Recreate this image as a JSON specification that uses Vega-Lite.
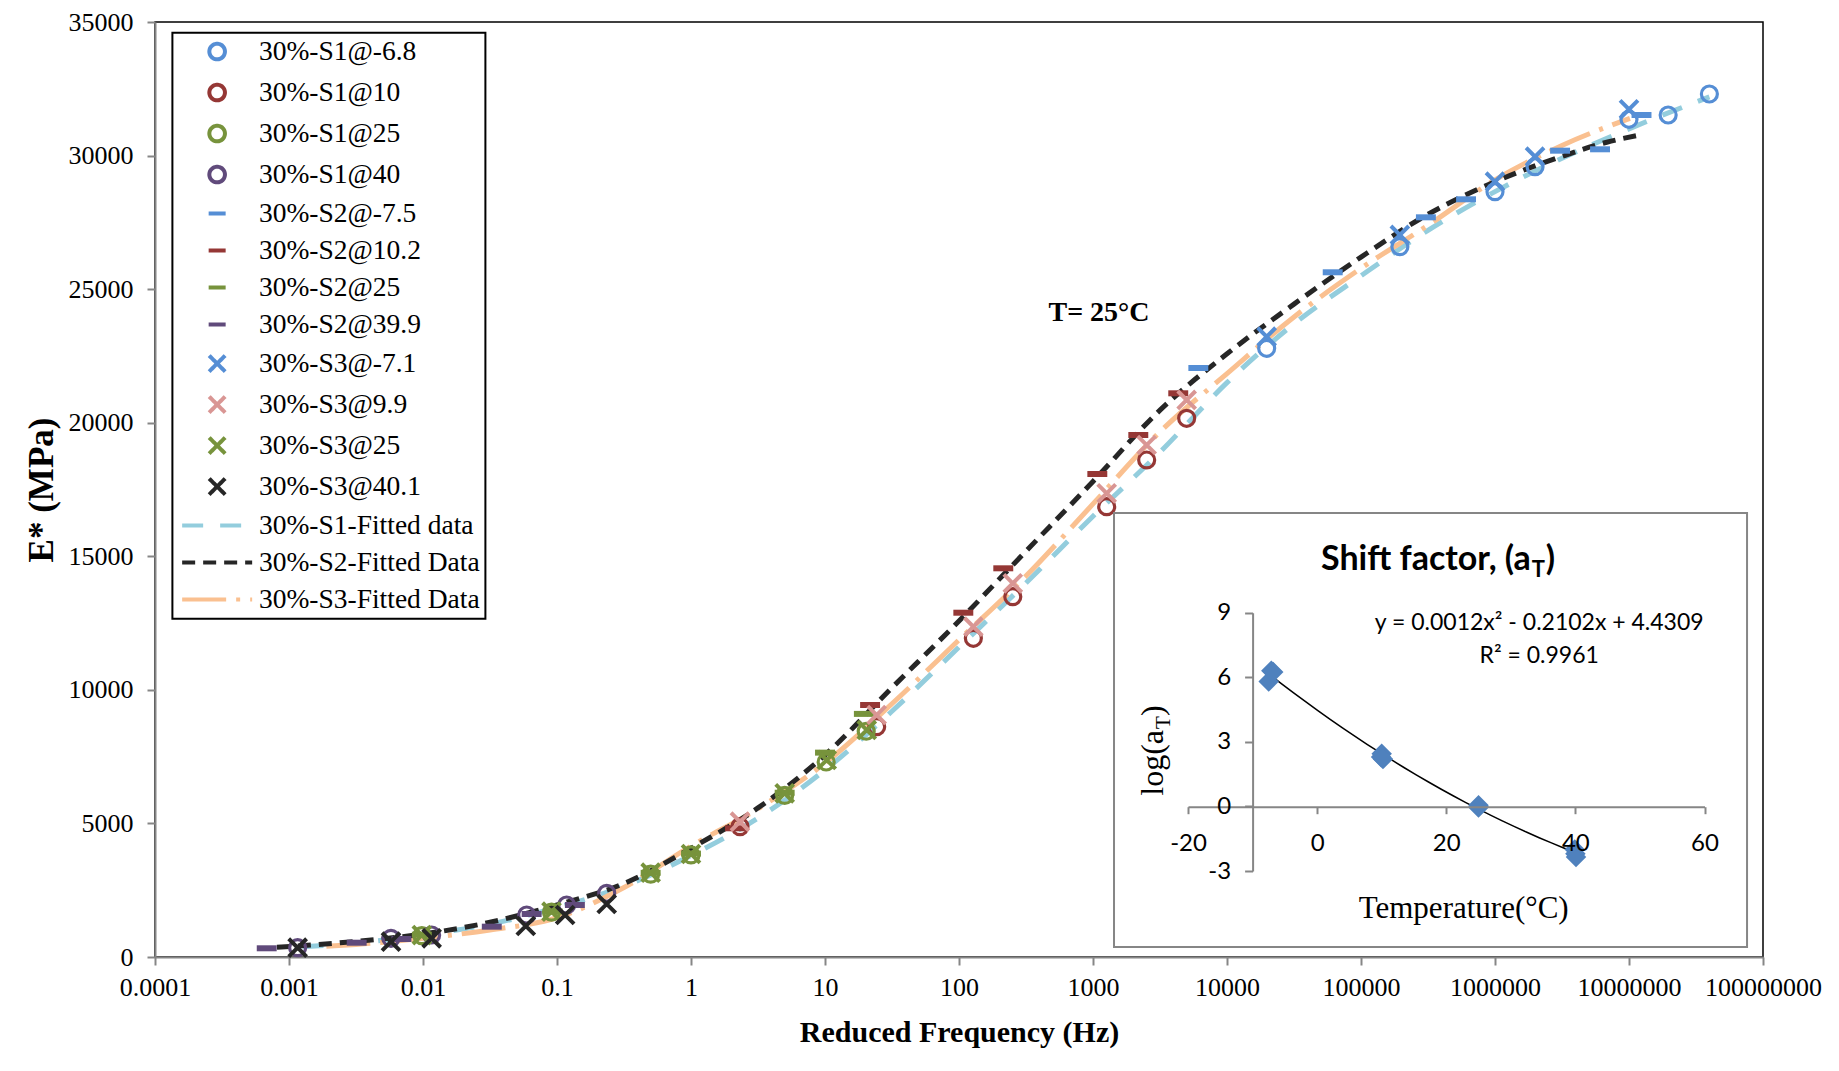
{
  "$schema": "https://vega.github.io/schema/vega-lite/v6.json",
  "width": 1608,
  "height": 935,
  "autosize": {"type": "none"},
  "padding": {"left": 155, "top": 22, "right": 76, "bottom": 114},
  "background": "white",
  "config": {
    "view": {"stroke": "#000000", "strokeWidth": 1.5},
    "axis": {"grid": false},
    "legend": {"strokeWidth": 2}
  },
  "datasets": {
    "pts": [
      {"series": "30%-S1@-6.8", "f": 19770, "E": 22786},
      {"series": "30%-S1@-6.8", "f": 195000, "E": 26590},
      {"series": "30%-S1@-6.8", "f": 1000000, "E": 28650},
      {"series": "30%-S1@-6.8", "f": 1990000, "E": 29584},
      {"series": "30%-S1@-6.8", "f": 10000000, "E": 31358},
      {"series": "30%-S1@-6.8", "f": 19600000, "E": 31519},
      {"series": "30%-S1@-6.8", "f": 39800000, "E": 32305},
      {"series": "30%-S1@10", "f": 2.32, "E": 4880},
      {"series": "30%-S1@10", "f": 24.3, "E": 8621},
      {"series": "30%-S1@10", "f": 128, "E": 11930},
      {"series": "30%-S1@10", "f": 252, "E": 13488},
      {"series": "30%-S1@10", "f": 1265, "E": 16857},
      {"series": "30%-S1@10", "f": 2515, "E": 18605},
      {"series": "30%-S1@10", "f": 5000, "E": 20165},
      {"series": "30%-S1@25", "f": 0.0098, "E": 800},
      {"series": "30%-S1@25", "f": 0.091, "E": 1680},
      {"series": "30%-S1@25", "f": 0.5, "E": 3100},
      {"series": "30%-S1@25", "f": 1.0, "E": 3820},
      {"series": "30%-S1@25", "f": 5.0, "E": 6050},
      {"series": "30%-S1@25", "f": 10.2, "E": 7300},
      {"series": "30%-S1@25", "f": 20.3, "E": 8450},
      {"series": "30%-S1@40", "f": 0.00116, "E": 348},
      {"series": "30%-S1@40", "f": 0.00577, "E": 700},
      {"series": "30%-S1@40", "f": 0.0116, "E": 823},
      {"series": "30%-S1@40", "f": 0.0594, "E": 1572},
      {"series": "30%-S1@40", "f": 0.118, "E": 1947},
      {"series": "30%-S1@40", "f": 0.235, "E": 2384},
      {"series": "30%-S2@-7.5", "f": 6110, "E": 22049},
      {"series": "30%-S2@-7.5", "f": 61500, "E": 25631},
      {"series": "30%-S2@-7.5", "f": 305000, "E": 27689},
      {"series": "30%-S2@-7.5", "f": 608000, "E": 28363},
      {"series": "30%-S2@-7.5", "f": 3060000, "E": 30183},
      {"series": "30%-S2@-7.5", "f": 6080000, "E": 30235},
      {"series": "30%-S2@-7.5", "f": 12400000, "E": 31519},
      {"series": "30%-S2@10.2", "f": 2.13, "E": 4818},
      {"series": "30%-S2@10.2", "f": 21.7, "E": 9433},
      {"series": "30%-S2@10.2", "f": 107.7, "E": 12888},
      {"series": "30%-S2@10.2", "f": 214, "E": 14550},
      {"series": "30%-S2@10.2", "f": 1077, "E": 18080},
      {"series": "30%-S2@10.2", "f": 2178, "E": 19540},
      {"series": "30%-S2@10.2", "f": 4327, "E": 21101},
      {"series": "30%-S2@25", "f": 0.0098, "E": 835},
      {"series": "30%-S2@25", "f": 0.093, "E": 1700},
      {"series": "30%-S2@25", "f": 0.5, "E": 3150},
      {"series": "30%-S2@25", "f": 1.0, "E": 3870},
      {"series": "30%-S2@25", "f": 5.0, "E": 6150},
      {"series": "30%-S2@25", "f": 10.0, "E": 7650},
      {"series": "30%-S2@25", "f": 19.5, "E": 9100},
      {"series": "30%-S2@39.9", "f": 0.000682, "E": 326},
      {"series": "30%-S2@39.9", "f": 0.0032, "E": 535},
      {"series": "30%-S2@39.9", "f": 0.0069, "E": 674},
      {"series": "30%-S2@39.9", "f": 0.0326, "E": 1135},
      {"series": "30%-S2@39.9", "f": 0.0647, "E": 1610},
      {"series": "30%-S2@39.9", "f": 0.136, "E": 1947},
      {"series": "30%-S3@-7.1", "f": 19770, "E": 23220},
      {"series": "30%-S3@-7.1", "f": 195000, "E": 27030},
      {"series": "30%-S3@-7.1", "f": 1000000, "E": 29023},
      {"series": "30%-S3@-7.1", "f": 1990000, "E": 29958},
      {"series": "30%-S3@-7.1", "f": 10000000, "E": 31732},
      {"series": "30%-S3@9.9", "f": 2.32, "E": 5065},
      {"series": "30%-S3@9.9", "f": 24.3, "E": 9059},
      {"series": "30%-S3@9.9", "f": 128, "E": 12364},
      {"series": "30%-S3@9.9", "f": 252, "E": 13990},
      {"series": "30%-S3@9.9", "f": 1265, "E": 17358},
      {"series": "30%-S3@9.9", "f": 2515, "E": 19166},
      {"series": "30%-S3@9.9", "f": 5000, "E": 20851},
      {"series": "30%-S3@25", "f": 0.0098, "E": 820},
      {"series": "30%-S3@25", "f": 0.091, "E": 1696},
      {"series": "30%-S3@25", "f": 0.5, "E": 3156},
      {"series": "30%-S3@25", "f": 1.0, "E": 3856},
      {"series": "30%-S3@25", "f": 5.0, "E": 6128},
      {"series": "30%-S3@25", "f": 10.3, "E": 7374},
      {"series": "30%-S3@25", "f": 20.5, "E": 8497},
      {"series": "30%-S3@40.1", "f": 0.00116, "E": 348},
      {"series": "30%-S3@40.1", "f": 0.00577, "E": 573},
      {"series": "30%-S3@40.1", "f": 0.0116, "E": 700},
      {"series": "30%-S3@40.1", "f": 0.0585, "E": 1160},
      {"series": "30%-S3@40.1", "f": 0.115, "E": 1572},
      {"series": "30%-S3@40.1", "f": 0.235, "E": 1984}
    ],
    "fit": [
      {"series": "30%-S1-Fitted data", "f": 0.00126, "E": 380},
      {"series": "30%-S1-Fitted data", "f": 0.00316, "E": 520},
      {"series": "30%-S1-Fitted data", "f": 0.01, "E": 830},
      {"series": "30%-S1-Fitted data", "f": 0.0316, "E": 1230},
      {"series": "30%-S1-Fitted data", "f": 0.1, "E": 1850},
      {"series": "30%-S1-Fitted data", "f": 0.316, "E": 2650},
      {"series": "30%-S1-Fitted data", "f": 1, "E": 3800},
      {"series": "30%-S1-Fitted data", "f": 3.16, "E": 5200},
      {"series": "30%-S1-Fitted data", "f": 10, "E": 7000},
      {"series": "30%-S1-Fitted data", "f": 31.6, "E": 9200},
      {"series": "30%-S1-Fitted data", "f": 100, "E": 11600},
      {"series": "30%-S1-Fitted data", "f": 316, "E": 14000},
      {"series": "30%-S1-Fitted data", "f": 1000, "E": 16500},
      {"series": "30%-S1-Fitted data", "f": 3162, "E": 18900},
      {"series": "30%-S1-Fitted data", "f": 10000, "E": 21500},
      {"series": "30%-S1-Fitted data", "f": 31623, "E": 23700},
      {"series": "30%-S1-Fitted data", "f": 100000, "E": 25500},
      {"series": "30%-S1-Fitted data", "f": 316228, "E": 27200},
      {"series": "30%-S1-Fitted data", "f": 1000000, "E": 28650},
      {"series": "30%-S1-Fitted data", "f": 3162278, "E": 29900},
      {"series": "30%-S1-Fitted data", "f": 10000000, "E": 31000},
      {"series": "30%-S1-Fitted data", "f": 39810717, "E": 32200},
      {"series": "30%-S2-Fitted Data", "f": 0.000813, "E": 363},
      {"series": "30%-S2-Fitted Data", "f": 0.00316, "E": 585},
      {"series": "30%-S2-Fitted Data", "f": 0.01, "E": 860},
      {"series": "30%-S2-Fitted Data", "f": 0.0316, "E": 1300},
      {"series": "30%-S2-Fitted Data", "f": 0.1, "E": 1950},
      {"series": "30%-S2-Fitted Data", "f": 0.316, "E": 2750},
      {"series": "30%-S2-Fitted Data", "f": 1, "E": 4070},
      {"series": "30%-S2-Fitted Data", "f": 3.16, "E": 5580},
      {"series": "30%-S2-Fitted Data", "f": 10, "E": 7560},
      {"series": "30%-S2-Fitted Data", "f": 31.6, "E": 10080},
      {"series": "30%-S2-Fitted Data", "f": 100, "E": 12580},
      {"series": "30%-S2-Fitted Data", "f": 316, "E": 15190},
      {"series": "30%-S2-Fitted Data", "f": 1000, "E": 17800},
      {"series": "30%-S2-Fitted Data", "f": 3162, "E": 20470},
      {"series": "30%-S2-Fitted Data", "f": 10000, "E": 22580},
      {"series": "30%-S2-Fitted Data", "f": 31623, "E": 24440},
      {"series": "30%-S2-Fitted Data", "f": 100000, "E": 26200},
      {"series": "30%-S2-Fitted Data", "f": 316228, "E": 27800},
      {"series": "30%-S2-Fitted Data", "f": 1000000, "E": 29020},
      {"series": "30%-S2-Fitted Data", "f": 3162278, "E": 29970},
      {"series": "30%-S2-Fitted Data", "f": 6823000, "E": 30500},
      {"series": "30%-S2-Fitted Data", "f": 12080000, "E": 30770},
      {"series": "30%-S3-Fitted Data", "f": 0.0019, "E": 400},
      {"series": "30%-S3-Fitted Data", "f": 0.00316, "E": 470},
      {"series": "30%-S3-Fitted Data", "f": 0.01, "E": 700},
      {"series": "30%-S3-Fitted Data", "f": 0.0316, "E": 1011},
      {"series": "30%-S3-Fitted Data", "f": 0.1, "E": 1470},
      {"series": "30%-S3-Fitted Data", "f": 0.316, "E": 2600},
      {"series": "30%-S3-Fitted Data", "f": 1, "E": 4150},
      {"series": "30%-S3-Fitted Data", "f": 3.16, "E": 5550},
      {"series": "30%-S3-Fitted Data", "f": 10, "E": 7260},
      {"series": "30%-S3-Fitted Data", "f": 31.6, "E": 9480},
      {"series": "30%-S3-Fitted Data", "f": 100, "E": 11870},
      {"series": "30%-S3-Fitted Data", "f": 316, "E": 14260},
      {"series": "30%-S3-Fitted Data", "f": 1000, "E": 16960},
      {"series": "30%-S3-Fitted Data", "f": 3162, "E": 19660},
      {"series": "30%-S3-Fitted Data", "f": 10000, "E": 21840},
      {"series": "30%-S3-Fitted Data", "f": 31623, "E": 23960},
      {"series": "30%-S3-Fitted Data", "f": 100000, "E": 25780},
      {"series": "30%-S3-Fitted Data", "f": 316228, "E": 27390},
      {"series": "30%-S3-Fitted Data", "f": 1000000, "E": 29090},
      {"series": "30%-S3-Fitted Data", "f": 3162278, "E": 30380},
      {"series": "30%-S3-Fitted Data", "f": 10160000, "E": 31395}
    ],
    "shift": [
      {"T": -7.5, "v": 5.8},
      {"T": -7.1, "v": 6.3},
      {"T": -6.8, "v": 6.25},
      {"T": 9.9, "v": 2.3},
      {"T": 10, "v": 2.45},
      {"T": 10.2, "v": 2.2},
      {"T": 25, "v": 0.05},
      {"T": 25, "v": -0.05},
      {"T": 25, "v": 0},
      {"T": 39.9, "v": -2.0},
      {"T": 40, "v": -2.2},
      {"T": 40.1, "v": -2.35}
    ]
  },
  "layer": [
    {
      "layer": [
        {
          "data": {"name": "fit"},
          "transform": [{"filter": "datum.series === '30%-S1-Fitted data'"}],
          "mark": {"type": "line", "interpolate": "monotone", "strokeWidth": 5},
          "encoding": {
            "x": {
              "field": "f", "type": "quantitative",
              "scale": {"type": "log", "domain": [0.0001, 100000000], "nice": false},
              "axis": {
                "orient": "bottom",
                "title": "Reduced Frequency (Hz)",
                "values": [0.0001, 0.001, 0.01, 0.1, 1, 10, 100, 1000, 10000, 100000, 1000000, 10000000, 100000000],
                "format": "~f", "labelFlush": false, "labelOverlap": false,
                "labelFont": "Liberation Serif", "labelFontSize": 26, "labelColor": "#000000", "labelPadding": 9,
                "tickSize": 8, "tickColor": "#868686", "tickWidth": 2,
                "domainColor": "#868686", "domainWidth": 2,
                "titleFont": "Liberation Serif", "titleFontSize": 30, "titleFontWeight": "bold", "titleColor": "#000000", "titlePadding": 17
              }
            },
            "y": {
              "field": "E", "type": "quantitative",
              "scale": {"domain": [0, 35000], "nice": false},
              "axis": {
                "orient": "left",
                "title": "E* (MPa)",
                "values": [0, 5000, 10000, 15000, 20000, 25000, 30000, 35000],
                "format": "d", "labelFlush": false, "labelOverlap": false,
                "labelFont": "Liberation Serif", "labelFontSize": 26, "labelColor": "#000000", "labelPadding": 14,
                "tickSize": 8, "tickColor": "#868686", "tickWidth": 2,
                "domainColor": "#868686", "domainWidth": 2,
                "titleFont": "Liberation Serif", "titleFontSize": 35, "titleFontWeight": "bold", "titleColor": "#000000", "titlePadding": 9
              }
            },
            "color": {
              "field": "series", "type": "nominal",
              "scale": {
                "domain": ["30%-S1@-6.8", "30%-S1@10", "30%-S1@25", "30%-S1@40", "30%-S2@-7.5", "30%-S2@10.2", "30%-S2@25", "30%-S2@39.9", "30%-S3@-7.1", "30%-S3@9.9", "30%-S3@25", "30%-S3@40.1", "30%-S1-Fitted data", "30%-S2-Fitted Data", "30%-S3-Fitted Data"],
                "range": ["#558ED5", "#953735", "#77933C", "#604A7B", "#558ED5", "#953735", "#77933C", "#604A7B", "#558ED5", "#D99694", "#77933C", "#262626", "#93CDDD", "#262626", "#FAC090"]
              },
              "legend": {
                "title": null,
                "orient": "none", "legendX": 17.4, "legendY": 10.8,
                "direction": "vertical",
                "padding": 5,
                "fillColor": "#FFFFFF", "strokeColor": "#000000",
                "labelFont": "Liberation Serif", "labelFontSize": 27.5, "labelColor": "#000000", "labelLimit": 500,
                "symbolSize": 400, "symbolStrokeWidth": 4,
                "symbolOffset": 26, "labelOffset": 28, "rowPadding": 8,
                "symbolFillColor": "transparent", "symbolOpacity": 1
              }
            },
            "strokeDash": {
              "field": "series", "type": "nominal",
              "scale": {
                "domain": ["30%-S1@-6.8", "30%-S1@10", "30%-S1@25", "30%-S1@40", "30%-S2@-7.5", "30%-S2@10.2", "30%-S2@25", "30%-S2@39.9", "30%-S3@-7.1", "30%-S3@9.9", "30%-S3@25", "30%-S3@40.1", "30%-S1-Fitted data", "30%-S2-Fitted Data", "30%-S3-Fitted Data"],
                "range": [[1, 0], [1, 0], [1, 0], [1, 0], [1, 0], [1, 0], [1, 0], [1, 0], [1, 0], [1, 0], [1, 0], [1, 0], [21, 17], [13, 8], [44, 10, 4, 10]]
              },
              "legend": {"title": null}
            }
          }
        },
        {
          "data": {"name": "fit"},
          "transform": [{"filter": "datum.series === '30%-S3-Fitted Data'"}],
          "mark": {"type": "line", "interpolate": "monotone", "strokeWidth": 5},
          "encoding": {
            "x": {"field": "f", "type": "quantitative"},
            "y": {"field": "E", "type": "quantitative"},
            "color": {"field": "series", "type": "nominal"},
            "strokeDash": {"field": "series", "type": "nominal"}
          }
        },
        {
          "data": {"name": "fit"},
          "transform": [{"filter": "datum.series === '30%-S2-Fitted Data'"}],
          "mark": {"type": "line", "interpolate": "monotone", "strokeWidth": 5},
          "encoding": {
            "x": {"field": "f", "type": "quantitative"},
            "y": {"field": "E", "type": "quantitative"},
            "color": {"field": "series", "type": "nominal"},
            "strokeDash": {"field": "series", "type": "nominal"}
          }
        },
        {
          "data": {"name": "pts"},
          "transform": [{"filter": "indexof(datum.series,'-S1@') >= 0"}],
          "mark": {"type": "point", "filled": false, "opacity": 1, "size": 420, "strokeWidth": 3.2},
          "encoding": {
            "x": {"field": "f", "type": "quantitative"},
            "y": {"field": "E", "type": "quantitative"},
            "color": {"field": "series", "type": "nominal"},
            "shape": {
              "field": "series", "type": "nominal",
              "scale": {
                "domain": ["30%-S1@-6.8", "30%-S1@10", "30%-S1@25", "30%-S1@40", "30%-S2@-7.5", "30%-S2@10.2", "30%-S2@25", "30%-S2@39.9", "30%-S3@-7.1", "30%-S3@9.9", "30%-S3@25", "30%-S3@40.1", "30%-S1-Fitted data", "30%-S2-Fitted Data", "30%-S3-Fitted Data"],
                "range": [
                  "M0.78,0A0.78,0.78,0,1,1,-0.78,0A0.78,0.78,0,1,1,0.78,0Z", "M0.78,0A0.78,0.78,0,1,1,-0.78,0A0.78,0.78,0,1,1,0.78,0Z", "M0.78,0A0.78,0.78,0,1,1,-0.78,0A0.78,0.78,0,1,1,0.78,0Z", "M0.78,0A0.78,0.78,0,1,1,-0.78,0A0.78,0.78,0,1,1,0.78,0Z",
                  "M-0.85,0H0.85", "M-0.85,0H0.85", "M-0.85,0H0.85", "M-0.85,0H0.85",
                  "M-0.8,-0.8L0.8,0.8M-0.8,0.8L0.8,-0.8", "M-0.8,-0.8L0.8,0.8M-0.8,0.8L0.8,-0.8", "M-0.8,-0.8L0.8,0.8M-0.8,0.8L0.8,-0.8", "M-0.8,-0.8L0.8,0.8M-0.8,0.8L0.8,-0.8",
                  "M-3.5,0H3.5", "M-3.5,0H3.5", "M-3.5,0H3.5"
                ]
              },
              "legend": {"title": null}
            }
          }
        },
        {
          "data": {"name": "pts"},
          "transform": [{"filter": "indexof(datum.series,'-S2@') >= 0"}],
          "mark": {"type": "point", "filled": false, "opacity": 1, "size": 550, "strokeWidth": 6},
          "encoding": {
            "x": {"field": "f", "type": "quantitative"},
            "y": {"field": "E", "type": "quantitative"},
            "color": {"field": "series", "type": "nominal"},
            "shape": {"field": "series", "type": "nominal"}
          }
        },
        {
          "data": {"name": "pts"},
          "transform": [{"filter": "indexof(datum.series,'-S3@') >= 0"}],
          "mark": {"type": "point", "filled": false, "opacity": 1, "size": 500, "strokeWidth": 4},
          "encoding": {
            "x": {"field": "f", "type": "quantitative"},
            "y": {"field": "E", "type": "quantitative"},
            "color": {"field": "series", "type": "nominal"},
            "shape": {"field": "series", "type": "nominal"}
          }
        },
        {
          "data": {"values": [{"f": 1109, "E": 24107, "label": "T= 25°C"}]},
          "mark": {"type": "text", "font": "Liberation Serif", "fontSize": 28, "fontWeight": "bold", "align": "center", "baseline": "middle", "color": "#000000"},
          "encoding": {
            "x": {"field": "f", "type": "quantitative"},
            "y": {"field": "E", "type": "quantitative"},
            "text": {"field": "label"}
          }
        }
      ]
    },
    {
      "layer": [
        {
          "data": {"values": [{"T": -31.46, "T2": 66.59, "v": 13.63, "v2": -6.53}]},
          "mark": {"type": "rect", "fill": "#FFFFFF", "stroke": "#868686", "strokeWidth": 2},
          "encoding": {
            "x": {
              "field": "T", "type": "quantitative",
              "scale": {"domain": [-20, 60], "range": [1033, 1549.5], "nice": false, "zero": false},
              "axis": {
                "orient": "bottom", "offset": -150.3, "title": null, "zindex": 1,
                "values": [-20, 0, 20, 40, 60], "labelExpr": "'' + datum.value", "labelFlush": false, "labelOverlap": false,
                "labelFont": "Lato", "labelFontSize": 24, "labelColor": "#000000", "labelPadding": 18,
                "tickSize": 7, "tickColor": "#868686", "tickWidth": 2,
                "domainColor": "#868686", "domainWidth": 2, "grid": false
              }
            },
            "x2": {"field": "T2"},
            "y": {
              "field": "v", "type": "quantitative",
              "scale": {"domain": [-3, 9], "range": [849, 590.7], "nice": false, "zero": false},
              "axis": {
                "orient": "left", "offset": -1097.6, "title": null, "zindex": 1,
                "values": [-3, 0, 3, 6, 9], "labelExpr": "'' + datum.value", "labelFlush": false, "labelOverlap": false,
                "labelFont": "Lato", "labelFontSize": 24, "labelColor": "#000000", "labelPadding": 14,
                "tickSize": 8, "tickColor": "#868686", "tickWidth": 2,
                "domainColor": "#868686", "domainWidth": 2, "grid": false
              }
            },
            "y2": {"field": "v2"}
          }
        },
        {
          "data": {"name": "shift"},
          "transform": [{"regression": "v", "on": "T", "method": "poly", "order": 2}],
          "mark": {"type": "line", "color": "#000000", "strokeWidth": 1.5},
          "encoding": {
            "x": {"field": "T", "type": "quantitative"},
            "y": {"field": "v", "type": "quantitative"}
          }
        },
        {
          "data": {"name": "shift"},
          "mark": {"type": "point", "shape": "diamond", "filled": true, "size": 420, "color": "#4F81BD", "opacity": 1},
          "encoding": {
            "x": {"field": "T", "type": "quantitative"},
            "y": {"field": "v", "type": "quantitative"}
          }
        },
        {
          "data": {"values": [{"T": 33.1, "v": 10.98, "text": "Shift factor, (a"}]},
          "mark": {"type": "text", "font": "Lato", "fontSize": 34, "fontWeight": "bold", "align": "right", "baseline": "alphabetic", "color": "#000000"},
          "encoding": {"x": {"field": "T", "type": "quantitative"}, "y": {"field": "v", "type": "quantitative"}, "text": {"field": "text"}}
        },
        {
          "data": {"values": [{"T": 33.1, "v": 10.98, "text": "T"}]},
          "mark": {"type": "text", "font": "Lato", "fontSize": 22, "fontWeight": "bold", "align": "left", "baseline": "alphabetic", "dx": 1, "dy": 7, "color": "#000000"},
          "encoding": {"x": {"field": "T", "type": "quantitative"}, "y": {"field": "v", "type": "quantitative"}, "text": {"field": "text"}}
        },
        {
          "data": {"values": [{"T": 33.1, "v": 10.98, "text": ")"}]},
          "mark": {"type": "text", "font": "Lato", "fontSize": 34, "fontWeight": "bold", "align": "left", "baseline": "alphabetic", "dx": 15, "color": "#000000"},
          "encoding": {"x": {"field": "T", "type": "quantitative"}, "y": {"field": "v", "type": "quantitative"}, "text": {"field": "text"}}
        },
        {
          "data": {"values": [{"T": 34.4, "v": 8.2, "text": "y = 0.0012x² - 0.2102x + 4.4309"}, {"T": 34.4, "v": 6.66, "text": "R² = 0.9961"}]},
          "mark": {"type": "text", "font": "Lato", "fontSize": 23, "align": "center", "baseline": "alphabetic", "color": "#000000"},
          "encoding": {"x": {"field": "T", "type": "quantitative"}, "y": {"field": "v", "type": "quantitative"}, "text": {"field": "text"}}
        },
        {
          "data": {"values": [{"T": 22.7, "v": -5.18, "text": "Temperature(°C)"}]},
          "mark": {"type": "text", "font": "Liberation Serif", "fontSize": 31, "align": "center", "baseline": "alphabetic", "color": "#000000"},
          "encoding": {"x": {"field": "T", "type": "quantitative"}, "y": {"field": "v", "type": "quantitative"}, "text": {"field": "text"}}
        },
        {
          "data": {"values": [{"T": -23.8, "v": 3.55, "text": "log(a"}]},
          "mark": {"type": "text", "font": "Liberation Serif", "fontSize": 32, "angle": 270, "align": "right", "baseline": "alphabetic", "color": "#000000"},
          "encoding": {"x": {"field": "T", "type": "quantitative"}, "y": {"field": "v", "type": "quantitative"}, "text": {"field": "text"}}
        },
        {
          "data": {"values": [{"T": -23.8, "v": 3.55, "text": "T"}]},
          "mark": {"type": "text", "font": "Liberation Serif", "fontSize": 21, "angle": 270, "align": "left", "baseline": "alphabetic", "dx": 1, "dy": 7, "color": "#000000"},
          "encoding": {"x": {"field": "T", "type": "quantitative"}, "y": {"field": "v", "type": "quantitative"}, "text": {"field": "text"}}
        },
        {
          "data": {"values": [{"T": -23.8, "v": 3.55, "text": ")"}]},
          "mark": {"type": "text", "font": "Liberation Serif", "fontSize": 32, "angle": 270, "align": "left", "baseline": "alphabetic", "dx": 14, "color": "#000000"},
          "encoding": {"x": {"field": "T", "type": "quantitative"}, "y": {"field": "v", "type": "quantitative"}, "text": {"field": "text"}}
        }
      ]
    }
  ],
  "resolve": {"scale": {"x": "independent", "y": "independent"}}
}
